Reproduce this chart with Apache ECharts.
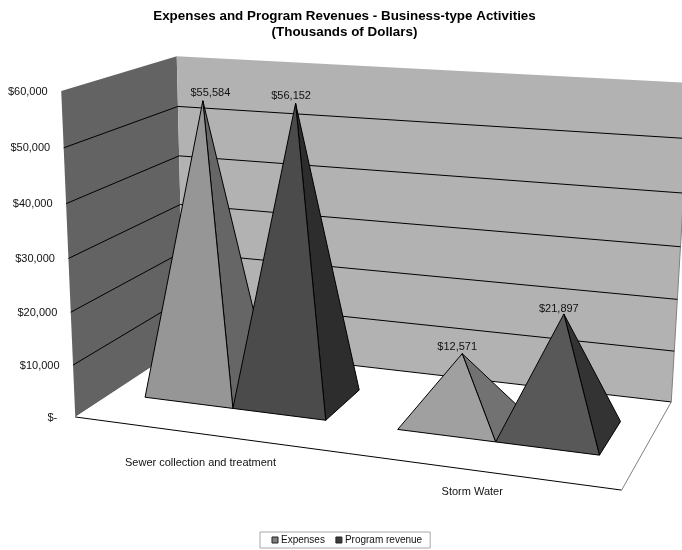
<!DOCTYPE html>
<html>
<head>
<meta charset="utf-8">
<style>html,body{margin:0;padding:0;background:#fff}#chart{width:682px;height:550px}</style>
<script src="https://cdn.jsdelivr.net/npm/echarts@6/dist/echarts.min.js"></script>
</head>
<body>
<div id="chart"></div>
<script>
// Chart values
const categories = ['Sewer collection and treatment', 'Storm Water'];
const expenses = [55584, 12571];
const programRevenue = [56152, 21897];
const yTicks = [0, 10000, 20000, 30000, 40000, 50000, 60000];
const yTickLabels = ['$-', '$10,000', '$20,000', '$30,000', '$40,000', '$50,000', '$60,000'];

// View of the chart box: where each corner (across, height, depth) lands on screen.
const viewCorners = [
  [0, 0, 0, 77, 418], [0, 1, 0, 60, 90], [0, 0, 1, 182, 345], [0, 1, 1, 178, 57],
  [1, 0, 1, 672, 402], [1, 1, 1, 690, 83], [1, 0, 0, 621, 490]
];

// Least-squares fit of the 3x4 perspective camera matrix.
function fitCamera(pts) {
  const n = 11, A = Array.from({length: n}, () => new Array(n + 1).fill(0));
  const add = (row, rhs) => {
    for (let i = 0; i < n; i++) {
      for (let j = 0; j < n; j++) A[i][j] += row[i] * row[j];
      A[i][n] += row[i] * rhs;
    }
  };
  pts.forEach(([u, v, w, x, y]) => {
    add([u, v, w, 1, 0, 0, 0, 0, -x * u, -x * v, -x * w], x);
    add([0, 0, 0, 0, u, v, w, 1, -y * u, -y * v, -y * w], y);
  });
  for (let c = 0; c < n; c++) {
    let p = c;
    for (let r = c + 1; r < n; r++) if (Math.abs(A[r][c]) > Math.abs(A[p][c])) p = r;
    [A[c], A[p]] = [A[p], A[c]];
    for (let r = 0; r < n; r++) {
      if (r === c) continue;
      const f = A[r][c] / A[c][c];
      for (let k = c; k <= n; k++) A[r][k] -= f * A[c][k];
    }
  }
  return A.map((row, i) => row[n] / row[i]);
}
const cam = fitCamera(viewCorners);
function project(u, v, w) {
  const d = cam[8] * u + cam[9] * v + cam[10] * w + 1;
  return [
    (cam[0] * u + cam[1] * v + cam[2] * w + cam[3]) / d,
    (cam[4] * u + cam[5] * v + cam[6] * w + cam[7]) / d
  ];
}

// Reads a data point through the axes and returns it in box units.
function boxUnits(params, api, catIndex, value) {
  const r = params.coordSys, pt = api.coord([catIndex, value]);
  return [(pt[0] - r.x) / r.width, (r.y + r.height - pt[1]) / r.height];
}

const FONT = '"Liberation Sans", Arial, sans-serif';
const EDGE = '#000';
const poly = (points, fill, stroke, z2) => ({
  type: 'polygon', z2: z2 || 0, shape: {points},
  style: {fill, stroke: stroke || 'none', lineWidth: 1}
});
const line = (points, stroke, width) => ({
  type: 'polyline', shape: {points},
  style: {fill: 'none', stroke, lineWidth: width || 1}
});
const label = (x, y, text, align) => ({
  type: 'text',
  style: {x, y, text, fill: '#111', font: '11px ' + FONT, align: align || 'center', verticalAlign: 'middle'}
});

// Walls and floor of the box
function renderBox() {
  return {
    type: 'group',
    children: [
      poly([project(0, 0, 0), project(0, 1, 0), project(0, 1, 1), project(0, 0, 1)], '#636363'),
      poly([project(0, 0, 1), project(0, 1, 1), project(1, 1, 1), project(1, 0, 1)], '#b2b2b2'),
      poly([project(0, 0, 0), project(0, 0, 1), project(1, 0, 1), project(1, 0, 0)], '#ffffff'),
      line([project(0, 0, 1), project(1, 0, 1)], EDGE),
      line([project(0, 0, 0), project(1, 0, 0)], EDGE),
      line([project(1, 0, 0), project(1, 0, 1)], '#808080'),
      line([project(1, 0, 1), project(1, 1, 1)], '#808080')
    ]
  };
}

// One gridline across both walls, with its tick label at the front edge
function renderTick(params, api) {
  const value = api.value(0);
  const v = boxUnits(params, api, 0, value)[1];
  const front = project(0, v, 0);
  const gap = value === 0 ? 18 : 13.5;
  const kids = [label(front[0] - gap, front[1] + 0.5, yTickLabels[params.dataIndex], 'right')];
  if (value > 0 && value < 60000) {
    kids.unshift(line([front, project(0, v, 1), project(1, v, 1)], '#000', 1));
  }
  return {type: 'group', children: kids};
}

// Category captions sit on the ground in front of the floor
const captionShift = [[26, 9], [17.5, -1]];
function renderCaption(params, api) {
  const i = params.dataIndex;
  const u = boxUnits(params, api, i, 0)[0];
  const p = project(u, 0, -0.23);
  return label(p[0] + captionShift[i][0], p[1] + captionShift[i][1], categories[i]);
}

// Pyramid footprint, in box units
const DEPTH_FRONT = 0.31, DEPTH_BACK = 0.70;

function pyramidRenderer(side, baseWidth, shades, labelShift) {
  return function (params, api) {
    const i = api.value(0), value = api.value(1);
    const [uc, v] = boxUnits(params, api, i, value);
    const uL = side < 0 ? uc - baseWidth : uc;
    const uR = uL + baseWidth;
    const apex = project((uL + uR) / 2, v, (DEPTH_FRONT + DEPTH_BACK) / 2);
    const fl = project(uL, 0, DEPTH_FRONT);
    const fr = project(uR, 0, DEPTH_FRONT);
    const br = project(uR, 0, DEPTH_BACK);
    return {
      type: 'group',
      children: [
        poly([fr, br, apex], shades[i][1], EDGE),
        poly([fl, fr, apex], shades[i][0], EDGE),
        label(apex[0] + labelShift[i][0], apex[1] + labelShift[i][1], '$' + value.toLocaleString('en-US'))
      ]
    };
  };
}

const chart = echarts.init(document.getElementById('chart'), null, {renderer: 'canvas'});
chart.setOption({
  animation: false,
  backgroundColor: '#fff',
  title: {
    text: 'Expenses and Program Revenues - Business-type Activities\n(Thousands of Dollars)',
    left: 339.5, top: 3, textAlign: 'center',
    textStyle: {fontFamily: FONT, fontSize: 13.4, fontWeight: 'bold', color: '#000', lineHeight: 16}
  },
  legend: {
    left: 260, top: 532, padding: [3, 8, 3, 11.5], itemWidth: 6, itemHeight: 6, itemGap: 10.5,
    borderColor: '#a8a8a8', borderWidth: 1, selectedMode: false,
    textStyle: {fontFamily: FONT, fontSize: 10, color: '#111', padding: [0, 0, 0, -2]},
    data: [
      {name: 'Expenses', icon: 'rect', itemStyle: {color: '#808080', borderColor: '#222', borderWidth: 1}},
      {name: 'Program revenue', icon: 'rect', itemStyle: {color: '#3c3c3c', borderColor: '#222', borderWidth: 1}}
    ]
  },
  grid: {left: 0, right: 0, top: 0, bottom: 0},
  xAxis: {type: 'category', data: categories, show: false},
  yAxis: {type: 'value', min: 0, max: 60000, interval: 10000, show: false},
  series: [
    {name: 'box', type: 'custom', renderItem: renderBox, data: [[0, 0]], silent: true},
    {name: 'ticks', type: 'custom', renderItem: renderTick, data: yTicks.map(t => [t]), encode: {y: 0}, silent: true},
    {name: 'captions', type: 'custom', renderItem: renderCaption, data: categories.map((c, i) => [i, 0]), silent: true},
    {
      name: 'Expenses', type: 'custom', itemStyle: {color: '#808080'},
      renderItem: pyramidRenderer(-1, 0.18, [['#969696', '#666666'], ['#a0a0a0', '#727272']], [[7.5, -8], [-5, -7]]),
      data: expenses.map((v, i) => [i, v]), encode: {x: 0, y: 1}
    },
    {
      name: 'Program revenue', type: 'custom', itemStyle: {color: '#3c3c3c'},
      renderItem: pyramidRenderer(1, 0.183, [['#4b4b4b', '#2d2d2d'], ['#585858', '#333333']], [[-4.5, -7], [-5, -5]]),
      data: programRevenue.map((v, i) => [i, v]), encode: {x: 0, y: 1}
    }
  ]
});
</script>
</body>
</html>
